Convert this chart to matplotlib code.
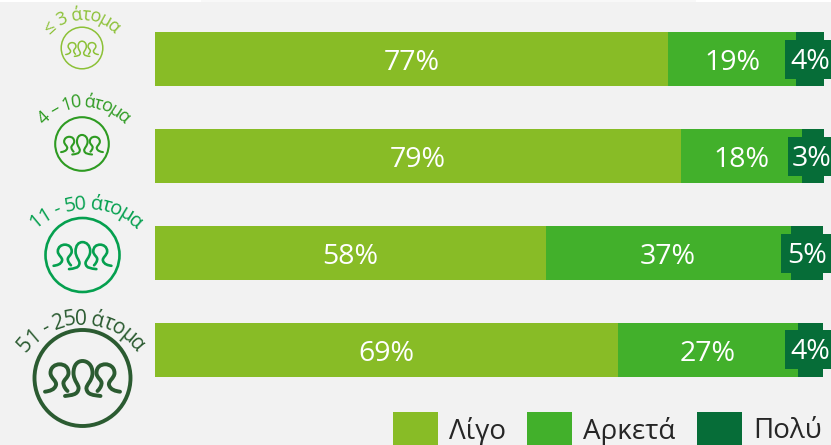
import numpy as np
import matplotlib
matplotlib.use("Agg")
import matplotlib.pyplot as plt
from matplotlib.patches import Circle, Rectangle, PathPatch
from matplotlib.path import Path

categories = ["≤ 3 άτομα", "4 – 10 άτομα", "11 - 50 άτομα", "51 - 250 άτομα"]
ligo = [76.7, 78.6, 58.4, 69.2]
arketa = [19.1, 18.1, 36.6, 26.9]
poly = [4.2, 3.3, 4.85, 3.75]
ligo_labels = ["77%", "79%", "58%", "69%"]
arketa_labels = ["19%", "18%", "37%", "27%"]
poly_labels = ["4%", "3%", "5%", "4%"]
series_names = ["Λίγο", "Αρκετά", "Πολύ"]
series_colors = ["#88BC26", "#42B02B", "#066D38"]
icon_colors = ["#8CC137", "#2E9B22", "#05A04F", "#2B5B31"]
BG = "#F2F2F2"
FONT = "Open Sans"
W, H = 831, 445

plt.rcParams["font.family"] = [FONT, "DejaVu Sans"]
fig = plt.figure(figsize=(W / 100, H / 100), dpi=100, facecolor=BG)

ov = fig.add_axes([0, 0, 1, 1], zorder=3)
ov.set_xlim(0, W); ov.set_ylim(H, 0); ov.axis("off"); ov.patch.set_alpha(0)

bar_top, bar_bot, left, right = 32, 377, 155, 824
ax = fig.add_axes([left / W, 1 - bar_bot / H, (right - left) / W, (bar_bot - bar_top) / H], zorder=1)
ax.set_xlim(0, 100)
ax.axis("off")
y = np.arange(4)
hgt = 54 / 97
ax.set_ylim(3 + hgt / 2, -hgt / 2)
ax.barh(y, ligo, height=hgt, color=series_colors[0], linewidth=0)
ax.barh(y, arketa, left=ligo, height=hgt, color=series_colors[1], linewidth=0)
ax.barh(y, poly, left=np.add(ligo, arketa), height=hgt, color=series_colors[2], linewidth=0)

fs = 20.5
lab_off = 4 / 97
for i in range(4):
    ax.text(ligo[i] / 2, i + lab_off, ligo_labels[i], color="white", ha="center", va="center", fontsize=fs, zorder=5)
    ax.text(ligo[i] + arketa[i] / 2, i + lab_off, arketa_labels[i], color="white", ha="center", va="center", fontsize=fs, zorder=5)

poly_x = [810, 812, 807, 810]
poly_box = [785, 788, 781, 785]
box_top = [40, 137, 234, 330]
for i in range(4):
    ov.add_patch(Rectangle((poly_box[i], box_top[i]), W - poly_box[i], 39, color=series_colors[2], lw=0))
    ov.text(poly_x[i], box_top[i] + 22, poly_labels[i], color="white", ha="center", va="center", fontsize=fs)

# icon outlines, in px relative to the centre of a circle of radius 48
MID = [(-17.5, 17), (-11, 16), (-5, 16), (-4, 10), (-3, 6), (-9, 2), (-9, -6), (-9, -14), (-5, -18), (0, -18),
       (5, -18), (10, -14), (10, -6), (10, 2), (3, 6), (4, 10), (5, 16), (11, 16), (18, 17)]
SIDE = [(-37.5, 12.7), (-33, 12), (-28, 11), (-26.5, 6), (-25.5, 2), (-32, -1), (-32, -6), (-32, -12), (-27, -14.7),
        (-23, -14.7), (-18, -14.7), (-14, -12), (-14, -6), (-14, -1), (-20, 1), (-19, 5), (-18.5, 8), (-17, 10), (-15, 12)]
CODES = [Path.MOVETO] + [Path.CURVE4] * 18

def people(cx, cy, k, color, lw):
    for pts in (MID, SIDE, [(-a, b) for a, b in SIDE]):
        verts = [(cx + a * k, cy + b * k) for a, b in pts]
        ov.add_patch(PathPatch(Path(verts, CODES), fc="none", ec=color, lw=lw, capstyle="round", zorder=4))

def curved(text, cx, cy, r, color, size, span):
    rend = fig.canvas.get_renderer()
    widths = []
    for ch in text:
        t = ov.text(0, 0, ch if ch != " " else "n", fontsize=size)
        bb = t.get_window_extent(rend)
        widths.append(bb.width * (0.45 if ch == " " else 1.0))
        t.remove()
    total = sum(widths) * span
    pos = -total / 2
    for ch, w in zip(text, widths):
        a = (pos + w * span / 2) / r
        ov.text(cx + r * np.sin(a), cy - r * np.cos(a), ch, fontsize=size, color=color, ha="center",
                va="center", rotation=-np.degrees(a), rotation_mode="anchor")
        pos += w * span

icons = [
    dict(cx=82, cy=48, R=20.8, lw=1.1, ax=82, ay=63, ar=48, ts=13, sp=0.97),
    dict(cx=82, cy=144, R=26.8, lw=1.5, ax=84, ay=160, ar=58, ts=13, sp=0.9),
    dict(cx=82.5, cy=255, R=37, lw=1.9, ax=86, ay=281, ar=77, ts=14.5, sp=0.92),
    dict(cx=82.5, cy=378, R=48, lw=2.8, ax=81, ay=392, ar=73, ts=15, sp=0.95),
]
for i, c in enumerate(icons):
    col = icon_colors[i]
    ov.add_patch(Circle((c["cx"], c["cy"]), c["R"], fc="none", ec=col, lw=c["lw"]))
    people(c["cx"], c["cy"] + 1, c["R"] / 48, col, c["lw"])
    curved(categories[i], c["ax"], c["ay"], c["ar"], col, c["ts"], c["sp"])

leg_x = [393, 527, 697]
text_x = [449, 583, 753]
for x0, tx, name, col in zip(leg_x, text_x, series_names, series_colors):
    ov.add_patch(Rectangle((x0, 412), 45, 33, color=col, lw=0))
    ov.text(tx, 431.5, name, color="#262626", fontsize=20, ha="left", va="center")

ov.add_patch(Rectangle((0, 0), 201, 2, color="white", lw=0))
ov.add_patch(Rectangle((201, 0), 495, 1.5, color="#F8F8F8", lw=0))
ov.add_patch(Rectangle((696, 0), 135, 2, color="white", lw=0))
fig.savefig("out.png", dpi=100, facecolor=BG)
